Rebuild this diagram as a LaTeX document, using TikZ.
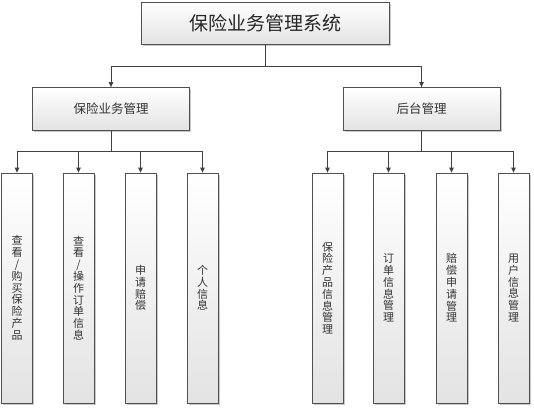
\documentclass[tikz,border=0pt]{standalone}
\usepackage{fontspec}
\newfontfamily\cjk{Noto Sans CJK SC}
\usetikzlibrary{arrows.meta,shadows}
\definecolor{edge}{HTML}{505050}
\definecolor{linec}{HTML}{404040}
\tikzset{
  boxbase/.style={draw=edge, line width=0.8pt, top color=white, bottom color=black!11,
    inner sep=0pt, drop shadow={shadow xshift=1.6pt, shadow yshift=-1.6pt, fill=black!35, opacity=0.6}},
  topbox/.style={boxbase, minimum width=248pt, minimum height=42pt, font=\cjk\fontsize{19}{21}\selectfont, text=black!85},
  midbox/.style={boxbase, minimum width=157pt, minimum height=43pt, font=\cjk\fontsize{12.5}{14}\selectfont, text=black!80},
  leafbox/.style={boxbase, minimum width=31pt, minimum height=230pt, align=center, font=\cjk\fontsize{11}{11.8}\selectfont, text=black!80},
  conn/.style={draw=linec, line width=0.8pt, -{Triangle[length=5pt,width=4.5pt]}},
}
\begin{document}
\begin{tikzpicture}[x=1pt,y=-1pt]
\useasboundingbox[fill=white] (0,0) rectangle (534,408);
\node[topbox] (sys) at (265,23) {保险业务管理系统};
\node[midbox] (m1) at (111,109) {保险业务管理};
\node[midbox] (m2) at (421.5,109) {后台管理};
\node[leafbox] (a1) at (17,288) {查\\看\\/\\购\\买\\保\\险\\产\\品};
\node[leafbox] (a2) at (78.5,288) {查\\看\\/\\操\\作\\订\\单\\信\\息};
\node[leafbox] (a3) at (140.5,288) {申\\请\\赔\\偿};
\node[leafbox] (a4) at (202.5,288) {个\\人\\信\\息};
\node[leafbox] (b1) at (327.5,288) {保\\险\\产\\品\\信\\息\\管\\理};
\node[leafbox] (b2) at (388.5,288) {订\\单\\信\\息\\管\\理};
\node[leafbox] (b3) at (451.5,288) {赔\\偿\\申\\请\\管\\理};
\node[leafbox] (b4) at (513.5,288) {用\\户\\信\\息\\管\\理};
\coordinate (j0) at (265,66);
\coordinate (j1) at (111,151);
\coordinate (j2) at (421.5,151);
\draw[draw=linec, line width=0.8pt] (sys.south) -- (j0);
\draw[conn] (j0) -| (m1.north);
\draw[conn] (j0) -| (m2.north);
\draw[draw=linec, line width=0.8pt] (m1.south) -- (j1);
\draw[draw=linec, line width=0.8pt] (m2.south) -- (j2);
\foreach \n in {a1,a2,a3,a4} \draw[conn] (j1) -| (\n.north);
\foreach \n in {b1,b2,b3,b4} \draw[conn] (j2) -| (\n.north);
\end{tikzpicture}
\end{document}
